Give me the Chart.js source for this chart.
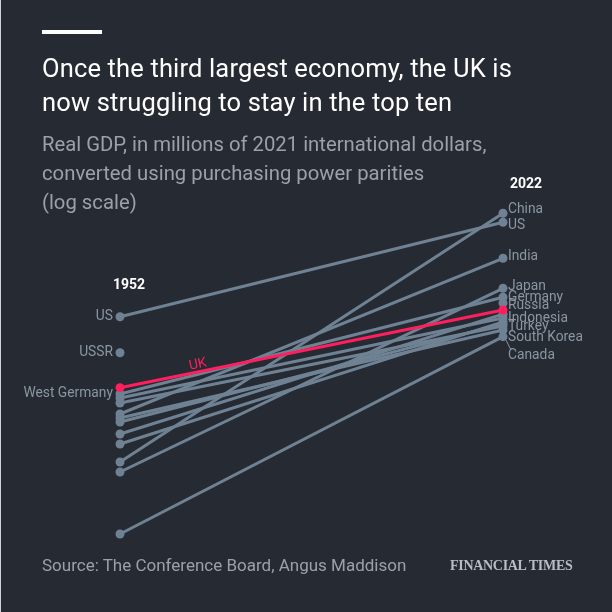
<!DOCTYPE html>
<html>
<head>
<meta charset="utf-8">
<script src="https://cdn.jsdelivr.net/npm/chart.js@4.4.1/dist/chart.umd.min.js"></script>
<style>
  html, body { margin: 0; padding: 0; background: #262a33; }
  #wrap { position: relative; width: 612px; height: 612px; background: #262a33; overflow: hidden; border-left: 1px solid #cfd2d6; box-sizing: border-box; }
  #gdpChart { position: absolute; left: 0; top: 0; }
  .rule { position: absolute; left: 41px; top: 30px; width: 60px; height: 4px; background: #ffffff; }
  .title { position: absolute; left: 41px; top: 51px; font-family: Roboto, sans-serif; font-size: 25.5px; line-height: 34px; color: #ffffff; letter-spacing: 0.15px; }
  .sub { position: absolute; left: 41px; top: 130px; font-family: Roboto, sans-serif; font-size: 20.3px; line-height: 29px; color: #9ba1aa; }
  .source { position: absolute; left: 41px; top: 555px; font-family: Roboto, sans-serif; font-size: 17px; color: #9ba1aa; }
  .ft { position: absolute; left: 449px; top: 558px; font-family: "Liberation Serif", serif; font-size: 14px; font-weight: bold; color: #b9bdc3; letter-spacing: -0.3px; }
</style>
</head>
<body>
<div id="wrap">
  <canvas id="gdpChart" width="612" height="612"></canvas>
  <div class="rule"></div>
  <div class="title">Once the third largest economy, the UK is<br>now struggling to stay in the top ten</div>
  <div class="sub">Real GDP, in millions of 2021 international dollars,<br>converted using purchasing power parities<br>(log scale)</div>
  <div class="source">Source: The Conference Board, Angus Maddison</div>
  <div class="ft">FINANCIAL TIMES</div>
</div>
<script>
// 데이터 (백만 2021 국제달러, 로그 스케일에서 읽은 추정값)
const years = [1952, 2022];
const countries = ['UK', 'US', 'USSR', 'West Germany', 'France', 'Italy', 'India', 'Canada', 'Mexico', 'Indonesia', 'Turkey', 'China', 'Japan', 'South Korea', 'Russia'];
const values1952 = [488000, 2500000, 1090000, 422000, 385000, 343000, 266000, 243000, 221000, 168000, 133500, 88200, 70000, 16800, null];
const values2022 = [2920000, 22000000, null, 3910000, 2430000, 2020000, 9600000, 1840000, 2120000, 2650000, 2220000, 27100000, 4810000, 1580000, 3430000];
const labels1952 = ['', 'US', 'USSR', 'West Germany', '', '', '', '', '', '', '', '', '', '', ''];
const labels2022 = ['', 'US', '', 'Germany', '', '', 'India', 'Canada', '', 'Indonesia', 'Turkey', 'China', 'Japan', 'South Korea', 'Russia'];

// 라벨 겹침 방지용 세로 보정 (px)
const nudge2022 = {China: -4, US: 3, India: -2, Japan: -2, Germany: 0, Russia: 3, Indonesia: 4, Turkey: 5, 'South Korea': 1, Canada: 26};

const SLATE = '#6f8294';
const PINK = '#ff1f5f';
const LABEL = '#8a96a2';

const datasets = countries.map((name, i) => {
    const pts = [];
    if (values1952[i] != null) pts.push({x: years[0], y: values1952[i]});
    if (values2022[i] != null) pts.push({x: years[1], y: values2022[i]});
    const col = name === 'UK' ? PINK : SLATE;
    return {
        label: name,
        data: pts,
        borderColor: col,
        backgroundColor: col,
        borderWidth: 3,
        pointRadius: 4.5,
        pointBorderWidth: 0,
        pointHoverRadius: 4.5,
        clip: false,
    };
});

const labelPlugin = {
    id: 'slopeLabels',
    afterDatasetsDraw(chart) {
        const c = chart.ctx;
        c.save();
        c.font = '13.8px Roboto, sans-serif';
        c.textBaseline = 'middle';
        countries.forEach((name, i) => {
            const meta = chart.getDatasetMeta(i);
            meta.data.forEach((pt, j) => {
                const yr = meta._parsed[j].x;
                if (yr === years[0] && labels1952[i]) {
                    c.fillStyle = LABEL;
                    c.textAlign = 'right';
                    c.fillText(labels1952[i], pt.x - 7, pt.y);
                }
                if (yr === years[1] && labels2022[i]) {
                    const lab = labels2022[i];
                    const dy = nudge2022[lab] || 0;
                    c.fillStyle = LABEL;
                    c.textAlign = 'left';
                    c.fillText(lab, pt.x + 5, pt.y + dy);
                    if (lab === 'Canada') {
                        c.strokeStyle = LABEL;
                        c.lineWidth = 1;
                        c.beginPath();
                        c.moveTo(pt.x + 3, pt.y + 10);
                        c.lineTo(pt.x + 8, pt.y + dy - 6);
                        c.stroke();
                    }
                }
            });
        });
        // UK 라벨 (선을 따라 회전)
        const uk = chart.getDatasetMeta(countries.indexOf('UK')).data;
        const ang = Math.atan2(uk[1].y - uk[0].y, uk[1].x - uk[0].x);
        c.save();
        c.translate(uk[0].x + 78, uk[0].y - 16 - 7);
        c.rotate(ang);
        c.fillStyle = PINK;
        c.textAlign = 'center';
        c.fillText('UK', 0, 0);
        c.restore();
        // 연도 라벨
        c.font = 'bold 14px Roboto, sans-serif';
        c.fillStyle = '#ffffff';
        c.textAlign = 'center';
        const xs = chart.scales.x;
        c.fillText(String(years[0]), xs.getPixelForValue(years[0]) + 9, 285);
        c.fillText(String(years[1]), xs.getPixelForValue(years[1]) + 23, 184);
        c.restore();
    }
};

new Chart(document.getElementById('gdpChart').getContext('2d'), {
    type: 'line',
    data: {datasets},
    options: {
        responsive: false,
        animation: false,
        layout: {padding: {left: 119, right: 110, top: 156.5, bottom: 55.5}},
        plugins: {legend: {display: false}, tooltip: {enabled: false}},
        scales: {
            x: {type: 'linear', min: 1952, max: 2022, display: false},
            y: {type: 'logarithmic', min: 1e4, max: 1e8, display: false},
        },
        elements: {line: {tension: 0}},
    },
    plugins: [labelPlugin],
});
</script>
</body>
</html>
